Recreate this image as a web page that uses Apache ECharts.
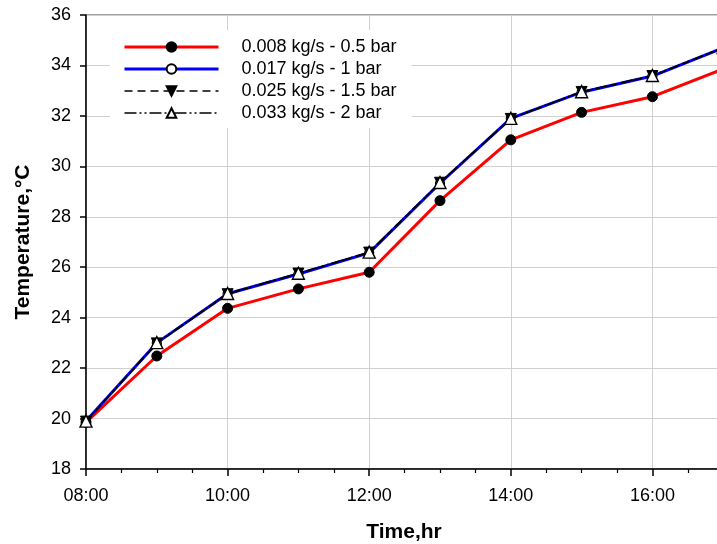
<!DOCTYPE html>
<html>
<head>
<meta charset="utf-8">
<script src="https://cdn.jsdelivr.net/npm/echarts@6/dist/echarts.min.js"></script>
<style>html,body{margin:0;padding:0;background:#fff}#c{width:717px;height:544px}</style>
</head>
<body>
<div id="c"></div>
<script>
// hours after 08:00
const hours = [0, 1, 2, 3, 4, 5, 6, 7, 8, 9];
const seriesNames = ['0.008 kg/s - 0.5 bar', '0.017 kg/s - 1 bar', '0.025 kg/s - 1.5 bar', '0.033 kg/s - 2 bar'];
const s1 = [19.85, 22.48, 24.37, 25.14, 25.80, 28.64, 31.05, 32.14, 32.76, 33.86];
const s2 = [19.90, 23.00, 24.95, 25.73, 26.57, 29.33, 31.90, 32.94, 33.58, 34.70];
const s3 = [19.88, 22.98, 24.93, 25.75, 26.58, 29.35, 31.88, 32.95, 33.58, 34.70];
const s4 = [19.90, 23.01, 24.96, 25.76, 26.60, 29.36, 31.90, 32.96, 33.60, 34.71];
const yTicks = {min: 18, max: 36, interval: 2};

const pair = arr => hours.map((h, i) => [h, arr[i]]);
const FONT = 'Liberation Sans, Arial, Helvetica, sans-serif';
const chart = echarts.init(document.getElementById('c'), null, {renderer: 'canvas'});
chart.setOption({
  animation: false,
  backgroundColor: '#fff',
  grid: {left: 86, top: 15, right: -77, bottom: 75, outerBoundsMode: 'none', containLabel: false,
    show: true, borderColor: '#444', borderWidth: 1},
  xAxis: {
    type: 'value', min: 0, max: 10, interval: 2,
    axisLine: {lineStyle: {color: '#000', width: 1.5}},
    axisTick: {length: 7, lineStyle: {color: '#000', width: 1.5}},
    minorTick: {show: true, splitNumber: 4, length: 4, lineStyle: {color: '#000', width: 1.2}},
    splitLine: {show: true, lineStyle: {color: '#d0d0d0', width: 1}},
    axisLabel: {color: '#000', fontSize: 18, fontFamily: FONT, margin: 18,
      formatter: v => String(8 + v).padStart(2, '0') + ':00'}
  },
  yAxis: {
    type: 'value', min: yTicks.min, max: yTicks.max, interval: yTicks.interval,
    axisLine: {show: true, lineStyle: {color: '#000', width: 1.5}},
    axisTick: {show: true, length: 6, lineStyle: {color: '#000', width: 1.5}},
    splitLine: {show: true, lineStyle: {color: '#d0d0d0', width: 1}},
    axisLabel: {color: '#000', fontSize: 18, fontFamily: FONT, margin: 15}
  },
  legend: {
    orient: 'vertical', left: 110, top: 30,
    backgroundColor: '#fff', padding: [8, 15, 6, 13],
    itemWidth: 94, itemHeight: 12, itemGap: 4,
    textStyle: {color: '#000', fontSize: 18, fontFamily: FONT, lineHeight: 18, padding: [0, 0, 0, 18]},
    data: [
      {name: seriesNames[0], lineStyle: {width: 3}},
      {name: seriesNames[1], lineStyle: {width: 3}},
      {name: seriesNames[2], lineStyle: {width: 1.5}},
      {name: seriesNames[3], lineStyle: {width: 1.5}}
    ]
  },
  graphic: [
    {type: 'text', x: 23, y: 242, rotation: Math.PI / 2,
      style: {text: 'Temperature,°C', font: 'bold 21px ' + FONT, fill: '#000', textAlign: 'center', textVerticalAlign: 'middle'}},
    {type: 'text', x: 404, y: 532,
      style: {text: 'Time,hr', font: 'bold 21px ' + FONT, fill: '#000', textAlign: 'center', textVerticalAlign: 'middle'}}
  ],
  series: [
    {name: seriesNames[0], type: 'line', data: pair(s1), symbol: 'circle', symbolSize: 10,
      lineStyle: {color: '#ff0000', width: 3}, itemStyle: {color: '#000', borderColor: '#000', borderWidth: 1}, z: 2},
    {name: seriesNames[1], type: 'line', data: pair(s2), symbol: 'circle', symbolSize: 9,
      lineStyle: {color: '#0000ff', width: 3}, itemStyle: {color: '#fff', borderColor: '#000', borderWidth: 1.2}, z: 3},
    {name: seriesNames[2], type: 'line', data: pair(s3), symbol: 'triangle', symbolRotate: 180, symbolSize: 11,
      lineStyle: {color: '#000', width: 1.5, type: [8, 5]}, itemStyle: {color: '#000', borderColor: '#000', borderWidth: 1}, z: 4},
    {name: seriesNames[3], type: 'line', data: pair(s4), symbol: 'triangle', symbolSize: 12,
      lineStyle: {color: '#000', width: 1.5, type: [12, 3, 2, 3, 2, 3]}, itemStyle: {color: '#fff', borderColor: '#000', borderWidth: 1.4}, z: 5}
  ]
});
</script>
</body>
</html>
